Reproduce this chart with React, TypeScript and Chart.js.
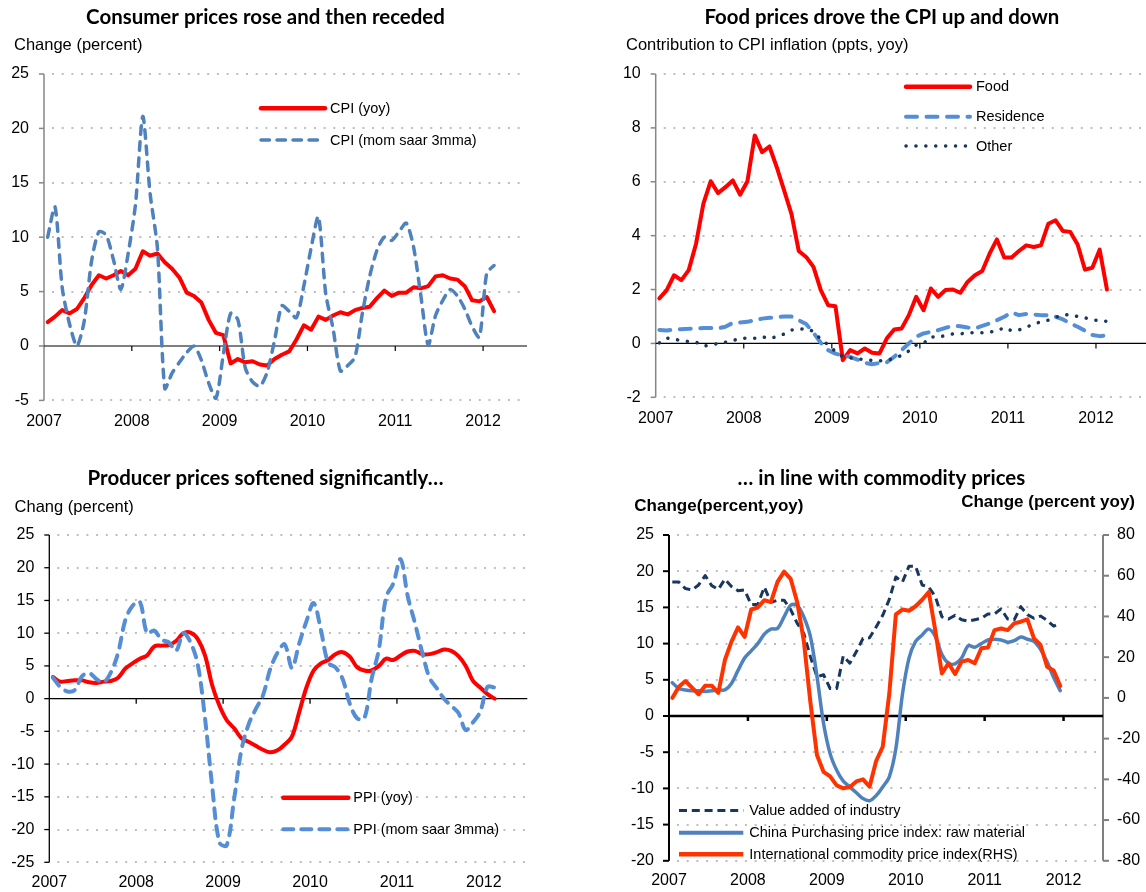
import React, { useEffect, useRef } from "react";
import { Chart, registerables } from "chart.js";

Chart.register(...registerables);

// ---------- shared axis data ----------
const YEAR_TICKS = [0, 12, 24, 36, 48, 60]; // months since Jan 2007
const YEAR_LABELS = ["2007", "2008", "2009", "2010", "2011", "2012"];

// ---------- Panel 1: consumer prices (Jan 2007 - Feb 2012) ----------
const CPI_YOY = [
  2.2, 2.7, 3.3, 3.0, 3.4, 4.4, 5.6, 6.5, 6.2, 6.5, 6.9, 6.5,
  7.1, 8.7, 8.3, 8.5, 7.7, 7.1, 6.3, 4.9, 4.6, 4.0, 2.4, 1.2,
  1.0, -1.6, -1.2, -1.5, -1.4, -1.7, -1.8, -1.2, -0.8, -0.5, 0.6, 1.9,
  1.5, 2.7, 2.4, 2.8, 3.1, 2.9, 3.3, 3.5, 3.6, 4.4, 5.1, 4.6,
  4.9, 4.9, 5.4, 5.3, 5.5, 6.4, 6.5, 6.2, 6.1, 5.5, 4.2, 4.1,
  4.5, 3.2,
];
const CPI_MOM = [
  10.0, 12.8, 5.3, 2.0, 0.0, 2.3, 7.8, 10.5, 10.2, 7.9, 5.2, 8.5,
  13.0, 21.1, 14.0, 9.0, -3.9, -2.5, -1.5, -0.6, 0.0, -1.3, -3.4, -4.8,
  -0.8, 3.0, 2.4, -2.0, -3.3, -3.7, -2.4, 0.5, 3.7, 3.2, 2.6, 5.5,
  9.0, 11.9, 4.8, 1.6, -2.3, -1.8, -1.0, 3.0, 6.4, 8.8, 10.0, 9.7,
  10.5, 11.3, 9.1, 4.6, 0.1, 2.8, 4.2, 5.2, 4.6, 3.4, 1.8, 0.8,
  6.7, 7.4,
];

// ---------- Panel 2: contributions to CPI ----------
const FOOD = [
  1.67, 1.98, 2.53, 2.35, 2.72, 3.7, 5.19, 6.02, 5.58, 5.8, 6.05, 5.52,
  6.02, 7.72, 7.1, 7.31, 6.54, 5.68, 4.81, 3.43, 3.21, 2.84, 1.98, 1.42,
  1.38, -0.62, -0.25, -0.37, -0.19, -0.35, -0.37, 0.19, 0.52, 0.55, 1.05, 1.73,
  1.23, 2.04, 1.73, 1.98, 2.0, 1.88, 2.28, 2.53, 2.69, 3.33, 3.86, 3.19,
  3.19, 3.43, 3.64, 3.58, 3.64, 4.44, 4.57, 4.17, 4.14, 3.67, 2.74, 2.81,
  3.48, 2.0,
];
const RESIDENCE = [
  0.5, 0.48, 0.52, 0.53, 0.54, 0.56, 0.57, 0.57, 0.56, 0.62, 0.76, 0.78,
  0.8, 0.86, 0.92, 0.95, 0.97, 1.0, 1.0, 0.86, 0.72, 0.4, 0.02, -0.25,
  -0.38, -0.45, -0.5, -0.6, -0.72, -0.77, -0.73, -0.7, -0.5, -0.25, 0.0, 0.25,
  0.37, 0.43, 0.49, 0.58, 0.65, 0.64, 0.59, 0.56, 0.65, 0.74, 0.86, 0.99,
  1.15, 1.05, 1.09, 1.07, 1.05, 1.05, 0.99, 0.89, 0.74, 0.62, 0.47, 0.31,
  0.27, 0.3,
];
const OTHER = [
  0.02, 0.2, 0.16, 0.1, 0.07, 0.05, -0.1, -0.06, 0.0, 0.04, 0.1, 0.19,
  0.19, 0.19, 0.25, 0.18, 0.25, 0.35, 0.5, 0.52, 0.55, 0.45, 0.15, -0.05,
  -0.3, -0.5, -0.54, -0.57, -0.6, -0.63, -0.65, -0.63, -0.55, -0.45, -0.28, -0.06,
  0.0, 0.25, 0.22, 0.3, 0.35, 0.35, 0.4, 0.4, 0.4, 0.42, 0.46, 0.59,
  0.47, 0.5, 0.6, 0.72, 0.8, 0.86, 0.97, 1.05, 1.07, 1.0, 0.95, 0.88,
  0.84, 0.82,
];

// ---------- Panel 3: producer prices ----------
const PPI_YOY = [
  3.3, 2.6, 2.7, 2.8, 2.8, 2.5, 2.4, 2.6, 2.7, 3.2, 4.6, 5.4,
  6.1, 6.6, 8.0, 8.1, 8.2, 8.8, 10.0, 10.1, 9.1, 6.6, 2.0, -1.1,
  -3.3, -4.5, -6.0, -6.6, -7.2, -7.8, -8.2, -7.9, -7.0, -5.8, -2.1, 1.7,
  4.3, 5.4, 5.9, 6.8, 7.1, 6.4, 4.8, 4.3, 4.3, 5.0, 6.1, 5.9,
  6.6, 7.2, 7.3, 6.8, 6.8, 7.1, 7.5, 7.3, 6.5, 5.0, 2.7, 1.7,
  0.7, 0.0,
];
const PPI_MOM = [
  3.2, 1.8, 1.1, 1.3, 3.4, 3.9, 3.0, 2.5, 4.0, 7.0, 12.0, 14.2,
  14.8, 10.0, 10.4, 9.0, 8.6, 7.3, 10.0, 8.6, 5.2, -3.0, -13.5, -22.0,
  -22.4, -15.5, -8.0, -4.0, -1.6, 0.5, 4.5, 7.0, 8.3, 4.7, 8.4, 11.8,
  14.6, 10.5, 5.5, 4.8, 3.0, -0.8, -3.0, -3.0, 3.0, 7.5, 15.5, 17.6,
  21.3, 15.6, 11.5, 7.0, 3.2, 1.6, 0.0, -1.1, -2.2, -4.8, -3.6, -2.0,
  1.8, 1.7,
];

// ---------- Panel 4: commodity prices (Jan 2007 - Dec 2011) ----------
const VALUE_ADDED = [
  18.5, 18.5, 17.6, 17.4, 18.1, 19.4, 18.0, 17.5, 18.9, 17.9, 17.3, 17.4,
  15.4, 15.4, 17.8, 15.7, 16.0, 16.0, 14.7, 12.8, 11.4, 8.2, 5.4, 5.7,
  3.8, 3.8, 8.3, 7.3, 8.9, 10.7, 10.8, 12.3, 13.9, 16.1, 19.2, 18.5,
  20.7, 20.7, 18.1, 17.8, 16.5, 13.7, 13.4, 13.9, 13.3, 13.1, 13.3, 13.5,
  14.1, 14.1, 14.8, 13.4, 13.3, 15.1, 14.0, 13.5, 13.8, 13.2, 12.4, 12.8,
];
const PURCHASING_RAW = [
  4.6, 3.8, 3.6, 3.5, 3.5, 3.4, 3.5, 3.6, 3.6, 4.5, 6.3, 8.0,
  9.0, 10.0, 11.3, 12.0, 12.1, 13.7, 15.3, 15.3, 13.7, 11.0, 5.5, -1.0,
  -5.2, -7.5, -9.0, -9.8, -10.6, -11.4, -11.7, -11.0, -9.8, -8.4, -4.5, 3.0,
  8.0, 10.3, 11.2, 12.0, 11.0, 8.5, 7.3, 7.2, 8.0, 9.7, 9.5, 10.0,
  10.5, 10.6, 10.5, 10.2, 10.4, 10.9, 10.6, 10.3, 9.2, 7.5, 5.3, 3.5,
];
const COMMODITY_RHS = [
  0.0, 5.5, 8.3, 5.0, 1.8, 6.0, 6.0, 2.5, 18.6, 27.6, 34.6, 30.0,
  43.4, 44.4, 48.0, 47.0, 57.0, 62.0, 58.5, 47.0, 28.0, -2.0, -28.0, -36.3,
  -38.5, -43.0, -44.4, -43.8, -41.0, -40.0, -43.6, -31.0, -24.0, 2.0, 41.0, 43.4,
  42.8, 45.0, 48.2, 52.0, 33.0, 12.0, 17.0, 11.7, 17.8, 18.6, 17.0, 24.4,
  24.7, 33.3, 34.1, 33.3, 36.6, 37.4, 38.6, 29.2, 26.0, 15.3, 13.5, 5.8,
];

// ---------- styling ----------
const ARIAL = '"Liberation Sans", Arial, sans-serif';
const TITLE_FAMILY = 'Lato, "Open Sans", sans-serif';
const W = 573;
const H = 446;

const pts = (arr: number[]) => arr.map((v, i) => ({ x: i + 0.5, y: v }));

type LegendItem = { text: string; color: string; width: number; dash: number[]; cap: CanvasLineCap };
type TextItem = {
  text: string; x: number; y: number; size: number; weight: string; family: string;
  align: CanvasTextAlign; fitWidth?: number;
};
type Deco = {
  axisColor: string; axisWidth: number; yTickLen: number;
  zeroWidth: number; zeroRight?: number; xTickLen: number; gridRight?: number;
  right?: { color: string; width: number; tickLen: number };
  legendX1: number; legendX2: number; legendTextX: number; legendYs: number[];
  legend: LegendItem[];
  texts: TextItem[];
};

function makeDeco(o: Deco) {
  return {
    id: "deco",
    beforeDatasetsDraw(chart: any) {
      const { ctx, chartArea: a, scales } = chart;
      const xs = scales.x;
      const ys = scales.y;
      ctx.save();
      // dotted horizontal gridlines
      ctx.lineWidth = 2;
      ctx.strokeStyle = "#BEBEBE";
      ctx.lineCap = "butt";
      ctx.setLineDash([2, 7.7]);
      ys.ticks.forEach((t: any) => {
        if (t.value === 0) return;
        const py = Math.round(ys.getPixelForValue(t.value));
        ctx.beginPath();
        ctx.moveTo(a.left + 8, py);
        ctx.lineTo(o.gridRight ?? a.right, py);
        ctx.stroke();
      });
      ctx.setLineDash([]);
      // left axis with tick marks
      ctx.strokeStyle = o.axisColor;
      ctx.lineWidth = o.axisWidth;
      ctx.beginPath();
      ctx.moveTo(a.left, a.top);
      ctx.lineTo(a.left, a.bottom);
      ctx.stroke();
      ys.ticks.forEach((t: any) => {
        const py = ys.getPixelForValue(t.value);
        ctx.beginPath();
        ctx.moveTo(a.left - o.yTickLen, py);
        ctx.lineTo(a.left, py);
        ctx.stroke();
      });
      // right axis
      if (o.right && scales.y1) {
        const y1 = scales.y1;
        ctx.strokeStyle = o.right.color;
        ctx.lineWidth = o.right.width;
        ctx.beginPath();
        ctx.moveTo(a.right, a.top);
        ctx.lineTo(a.right, a.bottom);
        ctx.stroke();
        y1.ticks.forEach((t: any) => {
          const py = y1.getPixelForValue(t.value);
          ctx.beginPath();
          ctx.moveTo(a.right, py);
          ctx.lineTo(a.right + o.right!.tickLen, py);
          ctx.stroke();
        });
      }
      // zero line with year tick marks
      const zy = ys.getPixelForValue(0);
      ctx.strokeStyle = "#000";
      ctx.lineWidth = o.zeroWidth;
      ctx.beginPath();
      ctx.moveTo(a.left, zy);
      ctx.lineTo(o.zeroRight ?? a.right, zy);
      ctx.stroke();
      xs.ticks.forEach((t: any) => {
        if (t.value === 0) return;
        const px = xs.getPixelForValue(t.value);
        ctx.beginPath();
        ctx.moveTo(px, zy);
        ctx.lineTo(px, zy + o.xTickLen);
        ctx.stroke();
      });
      ctx.restore();
    },
    afterDraw(chart: any) {
      const { ctx } = chart;
      ctx.save();
      // legend
      o.legend.forEach((it, i) => {
        const y = o.legendYs[i];
        ctx.strokeStyle = it.color;
        ctx.lineWidth = it.width;
        ctx.lineCap = it.cap;
        ctx.setLineDash(it.dash);
        ctx.beginPath();
        ctx.moveTo(o.legendX1, y);
        ctx.lineTo(o.legendX2, y);
        ctx.stroke();
        ctx.setLineDash([]);
        ctx.fillStyle = "#000";
        ctx.font = `14.5px ${ARIAL}`;
        ctx.textAlign = "left";
        ctx.textBaseline = "middle";
        ctx.fillText(it.text, o.legendTextX, y + 0.5);
      });
      // titles
      o.texts.forEach((t) => {
        let size = t.size;
        if (t.fitWidth) {
          ctx.font = `${t.weight} 20px ${t.family}`;
          const w = ctx.measureText(t.text).width;
          if (w > 0) size = (20 * t.fitWidth) / w;
        }
        ctx.font = `${t.weight} ${size}px ${t.family}`;
        ctx.fillStyle = "#000";
        ctx.textAlign = t.align;
        ctx.textBaseline = "middle";
        ctx.fillText(t.text, t.x, t.y);
      });
      ctx.restore();
    },
  };
}

type Area = { l: number; t: number; r: number; b: number };

function buildConfig(
  area: Area,
  y: { min: number; max: number; step: number },
  datasets: any[],
  deco: Deco,
  xPad: number,
  y1?: { min: number; max: number; step: number }
) {
  const tickFont = { family: ARIAL, size: 16 };
  const scales: any = {
    x: {
      type: "linear",
      min: 0,
      max: 66,
      grid: { display: false, drawTicks: false },
      border: { display: false },
      afterBuildTicks: (s: any) => {
        s.ticks = YEAR_TICKS.map((v) => ({ value: v }));
      },
      afterFit: (s: any) => {
        s.height = H - area.b;
      },
      ticks: {
        autoSkip: false,
        maxRotation: 0,
        padding: xPad,
        color: "#000",
        font: tickFont,
        callback: (v: number) => {
          const k = YEAR_TICKS.indexOf(v);
          return k >= 0 ? YEAR_LABELS[k] : "";
        },
      },
    },
    y: {
      type: "linear",
      position: "left",
      min: y.min,
      max: y.max,
      grid: { display: false, drawTicks: false },
      border: { display: false },
      afterFit: (s: any) => {
        s.width = area.l;
      },
      ticks: { stepSize: y.step, padding: 15, color: "#000", font: tickFont, autoSkip: false },
    },
  };
  let rightPad = W - area.r;
  if (y1) {
    scales.y1 = {
      type: "linear",
      position: "right",
      min: y1.min,
      max: y1.max,
      grid: { display: false, drawTicks: false },
      border: { display: false },
      afterFit: (s: any) => {
        s.width = W - area.r;
      },
      ticks: { stepSize: y1.step, padding: 14, color: "#000", font: tickFont, autoSkip: false },
    };
    rightPad = 0;
  }
  return {
    type: "line" as const,
    data: { datasets },
    options: {
      responsive: false,
      animation: false as const,
      devicePixelRatio: 1,
      layout: { padding: { top: area.t, left: 0, right: rightPad, bottom: 0 } },
      elements: { point: { radius: 0 } },
      plugins: { legend: { display: false }, tooltip: { enabled: false }, title: { display: false } },
      scales,
    },
    plugins: [makeDeco(deco)],
  };
}

const line = (data: number[], color: string, width: number, extra: any = {}) => ({
  data: pts(data),
  borderColor: color,
  backgroundColor: color,
  borderWidth: width,
  pointRadius: 0,
  fill: false,
  tension: 0,
  borderJoinStyle: "round",
  borderCapStyle: "round",
  ...extra,
});

const RED = "#FF0000";
const BLUE1 = "#4F81BD";
const BLUE2 = "#558ED5";
const NAVY = "#17375E";
const ORANGE = "#FF3300";

function panel1() {
  return buildConfig(
    { l: 44, t: 74, r: 527, b: 400.4 },
    { min: -5, max: 25, step: 5 },
    [
      line(CPI_MOM, BLUE1, 3.5, { borderDash: [8.5, 7.5], tension: 0.25, order: 0 }),
      line(CPI_YOY, RED, 4, { order: 1 }),
    ],
    {
      axisColor: "#868686", axisWidth: 1.5, yTickLen: 5, zeroWidth: 1.2, xTickLen: 5,
      legendX1: 261, legendX2: 325, legendTextX: 330, legendYs: [108.3, 140],
      legend: [
        { text: "CPI (yoy)", color: RED, width: 4.5, dash: [], cap: "round" },
        { text: "CPI (mom saar 3mma)", color: BLUE1, width: 3.5, dash: [8.5, 7.5], cap: "round" },
      ],
      texts: [
        { text: "Consumer prices rose and then receded", x: 265.5, y: 17, size: 20, weight: "bold", family: TITLE_FAMILY, align: "center", fitWidth: 359 },
        { text: "Change (percent)", x: 14, y: 45.5, size: 16.5, weight: "normal", family: ARIAL, align: "left" },
      ],
    },
    12
  );
}

function panel2() {
  return buildConfig(
    { l: 82.7, t: 74, r: 567, b: 397.3 },
    { min: -2, max: 10, step: 2 },
    [
      line(OTHER, NAVY, 3.5, { borderDash: [0.1, 9.8], order: 0 }),
      line(RESIDENCE, BLUE2, 4, { borderDash: [11, 9.5], order: 1 }),
      line(FOOD, RED, 4, { order: 2 }),
    ],
    {
      axisColor: "#868686", axisWidth: 1.5, yTickLen: 5, zeroWidth: 1.2, xTickLen: 5,
      zeroRight: 573, gridRight: 573,
      legendX1: 333, legendX2: 397, legendTextX: 403, legendYs: [86.7, 116.7, 146],
      legend: [
        { text: "Food", color: RED, width: 4.5, dash: [], cap: "round" },
        { text: "Residence", color: BLUE2, width: 4, dash: [11, 9.5], cap: "round" },
        { text: "Other", color: NAVY, width: 3.5, dash: [0.1, 9.8], cap: "round" },
      ],
      texts: [
        { text: "Food prices drove the CPI up and down", x: 308.8, y: 17, size: 20, weight: "bold", family: TITLE_FAMILY, align: "center", fitWidth: 355 },
        { text: "Contribution to CPI inflation (ppts, yoy)", x: 53, y: 45, size: 16.5, weight: "normal", family: ARIAL, align: "left" },
      ],
    },
    11.4
  );
}

function panel3() {
  return buildConfig(
    { l: 49.3, t: 89, r: 527.3, b: 416.3 },
    { min: -25, max: 25, step: 5 },
    [
      line(PPI_MOM, BLUE2, 4, { borderDash: [10, 8], tension: 0.35, order: 0 }),
      line(PPI_YOY, RED, 4, { tension: 0.35, order: 1 }),
    ],
    {
      axisColor: "#000", axisWidth: 1.3, yTickLen: 5, zeroWidth: 1.3, xTickLen: 5,
      legendX1: 283.3, legendX2: 348.3, legendTextX: 353.3, legendYs: [351.7, 383.3],
      legend: [
        { text: "PPI (yoy)", color: RED, width: 4.5, dash: [], cap: "round" },
        { text: "PPI (mom saar 3mma)", color: BLUE2, width: 4, dash: [10, 8], cap: "round" },
      ],
      texts: [
        { text: "Producer prices softened significantly\u2026", x: 265.5, y: 32.5, size: 20, weight: "bold", family: TITLE_FAMILY, align: "center", fitWidth: 356 },
        { text: "Chang (percent)", x: 14.6, y: 61.5, size: 16.5, weight: "normal", family: ARIAL, align: "left" },
      ],
    },
    10.8
  );
}

function panel4() {
  return buildConfig(
    { l: 96, t: 89, r: 530, b: 414.8 },
    { min: -20, max: 25, step: 5 },
    [
      line(COMMODITY_RHS, ORANGE, 4, { yAxisID: "y1", order: 0 }),
      line(PURCHASING_RAW, BLUE1, 3.5, { tension: 0.3, order: 1 }),
      line(VALUE_ADDED, NAVY, 3, { borderDash: [8, 4.8], borderCapStyle: "butt", order: 2 }),
    ],
    {
      axisColor: "#000", axisWidth: 2, yTickLen: 6, zeroWidth: 2.5, xTickLen: 5,
      right: { color: "#7F7F7F", width: 2, tickLen: 6 },
      legendX1: 106, legendX2: 170.3, legendTextX: 176.3, legendYs: [364.5, 386.7, 408.3],
      legend: [
        { text: "Value added of industry", color: NAVY, width: 3, dash: [8, 4.8], cap: "butt" },
        { text: "China Purchasing price index: raw material", color: BLUE1, width: 4, dash: [], cap: "butt" },
        { text: "International commodity price index(RHS)", color: ORANGE, width: 4.5, dash: [], cap: "butt" },
      ],
      texts: [
        { text: "\u2026 in line with commodity prices", x: 308.4, y: 32.5, size: 20, weight: "bold", family: TITLE_FAMILY, align: "center", fitWidth: 288 },
        { text: "Change(percent,yoy)", x: 61.3, y: 60.7, size: 17, weight: "bold", family: ARIAL, align: "left" },
        { text: "Change (percent yoy)", x: 562, y: 56.7, size: 17, weight: "bold", family: ARIAL, align: "right" },
      ],
    },
    10.6,
    { min: -80, max: 80, step: 20 }
  );
}

function ChartPanel({ left, top, build }: { left: number; top: number; build: () => any }) {
  const ref = useRef<HTMLCanvasElement>(null);
  useEffect(() => {
    if (!ref.current) return;
    const chart = new Chart(ref.current, build());
    return () => chart.destroy();
  }, [build]);
  return (
    <canvas
      ref={ref}
      width={W}
      height={H}
      style={{ position: "absolute", left, top, width: W, height: H, display: "block" }}
    />
  );
}

export default function App() {
  return (
    <div style={{ position: "absolute", left: 0, top: 0, width: 1146, height: 892, background: "#fff", overflow: "hidden" }}>
      <ChartPanel left={0} top={0} build={panel1} />
      <ChartPanel left={573} top={0} build={panel2} />
      <ChartPanel left={0} top={446} build={panel3} />
      <ChartPanel left={573} top={446} build={panel4} />
    </div>
  );
}
